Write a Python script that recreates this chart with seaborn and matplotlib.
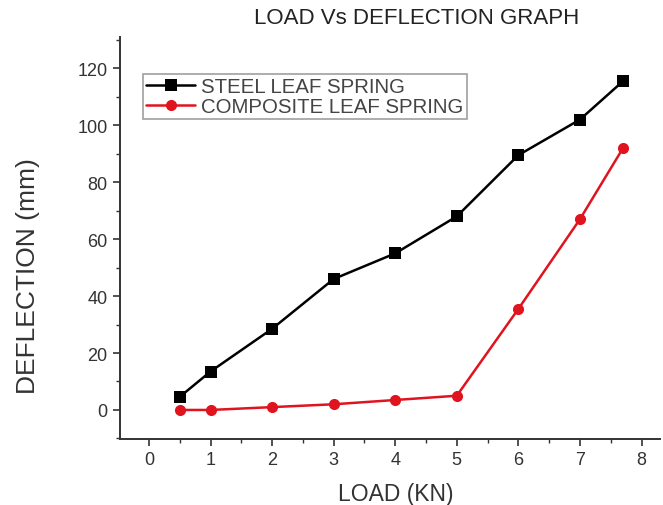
import matplotlib
matplotlib.use("Agg")
import matplotlib.pyplot as plt
import seaborn as sns
import pandas as pd
from matplotlib.ticker import MultipleLocator

load = [0.5, 1, 2, 3, 4, 5, 6, 7, 7.7]
steel = [4.6, 13.5, 28.5, 46, 55, 68, 89.5, 102, 115.5]
composite = [0, 0, 1, 2, 3.5, 5, 35.5, 67, 92]
series_names = ["STEEL LEAF SPRING", "COMPOSITE LEAF SPRING"]

df = pd.DataFrame({
    "LOAD": load * 2,
    "DEFLECTION": steel + composite,
    "Series": [series_names[0]] * len(load) + [series_names[1]] * len(load),
})

sns.set_style("ticks")
plt.rcParams['font.family'] = ['Liberation Sans', 'DejaVu Sans']

fig = plt.figure(figsize=(6.63, 5.06), dpi=100)
ax = fig.add_axes([120/663, 66/506, 540/663, 402/506])

sns.lineplot(data=df, x="LOAD", y="DEFLECTION", hue="Series", style="Series",
             palette={series_names[0]: "black", series_names[1]: "#e0141e"},
             markers={series_names[0]: "s", series_names[1]: "o"},
             dashes=False, markersize=8, linewidth=1.8, markeredgewidth=0,
             ax=ax, sort=False)

ax.set_xlim(-0.47, 8.3)
ax.set_ylim(-10.2, 131)
ax.xaxis.set_major_locator(MultipleLocator(1))
ax.xaxis.set_minor_locator(MultipleLocator(0.5))
ax.yaxis.set_major_locator(MultipleLocator(20))
ax.yaxis.set_minor_locator(MultipleLocator(10))
ax.tick_params(axis='both', which='major', direction='out', length=5, width=1.2,
               labelsize=13, colors='#333333', pad=4)
ax.tick_params(axis='both', which='minor', direction='out', length=3, width=1.0,
               colors='#333333')
for s in ["top", "right"]:
    ax.spines[s].set_visible(False)
for s in ["left", "bottom"]:
    ax.spines[s].set_linewidth(1.4)
    ax.spines[s].set_color('#333333')

ax.set_xlabel("LOAD (KN)", fontsize=16.5, color='#333333')
ax.set_ylabel("DEFLECTION (mm)", fontsize=19, color='#333333')
ax.xaxis.set_label_coords((396 - 120) / 540, (440 - 483) / 402)
ax.yaxis.set_label_coords((40 - 120) / 540, (440 - 276) / 402)
fig.text(417/663, 1 - 19/506, "LOAD Vs DEFLECTION GRAPH", ha='center', va='center',
         fontsize=16, color='#222222')

leg = ax.legend(loc='upper left', bbox_to_anchor=(23/540, (440 - 75) / 402), fontsize=14.7,
                frameon=True, fancybox=False, edgecolor='#888888',
                borderpad=0.15, handlelength=2.4, handletextpad=0.3,
                labelspacing=0.05, borderaxespad=0)
for t in leg.get_texts():
    t.set_color('#444444')
leg.get_frame().set_linewidth(1.2)

fig.savefig("out.png", dpi=100)
